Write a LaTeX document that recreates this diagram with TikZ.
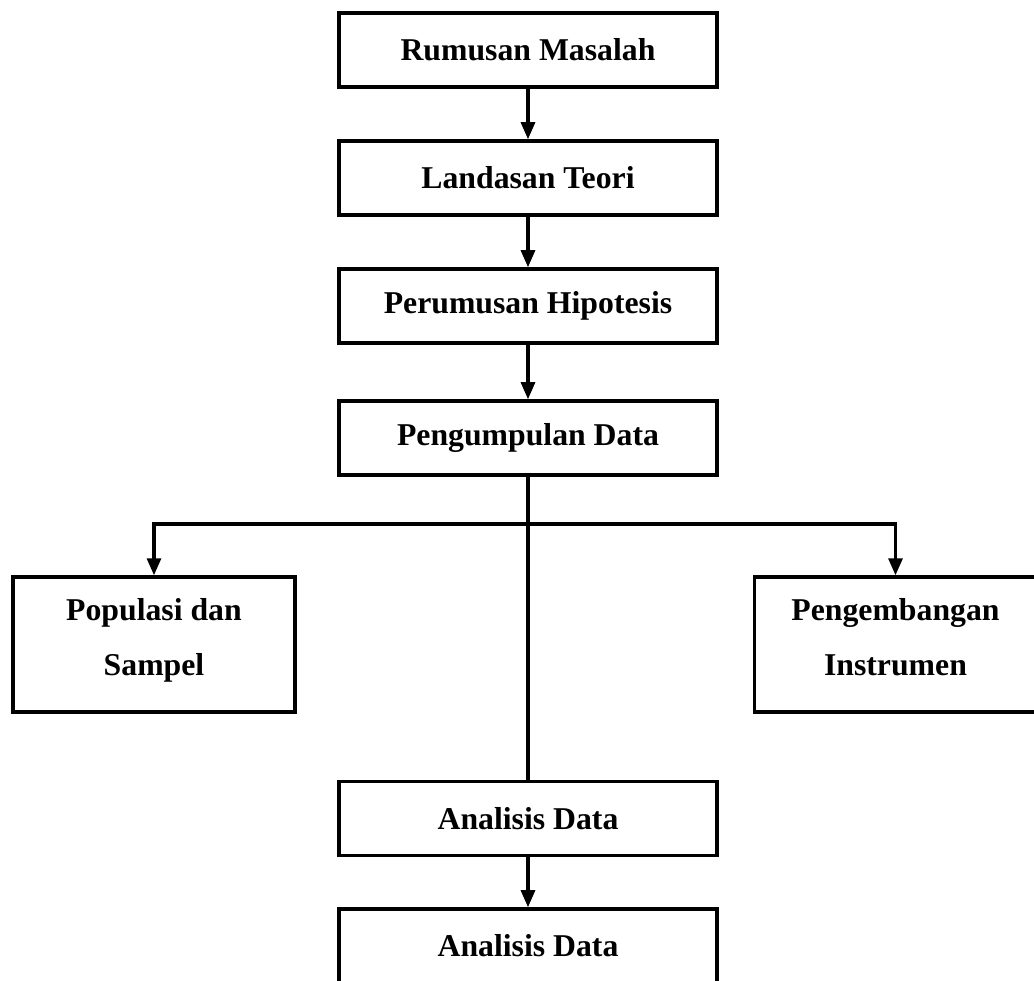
\documentclass[tikz,border=0pt]{standalone}
\usepackage{fontspec}
\setmainfont{Liberation Serif}
\usetikzlibrary{arrows.meta}

\begin{document}
\begin{tikzpicture}[x = 0.378pt, y = -0.378pt,
	box/.style = {rectangle, draw, line width = 1.2pt, font = \bfseries\fontsize{12}{20.8}\selectfont, align = center, minimum width = 142.9pt, minimum height = 28pt},
	sidebox/.style = {box, minimum width = 106.6pt, minimum height = 51pt, text depth = 5.5pt},
	link/.style = {line width = 1.4pt},
	arr/.style = {link, -{Triangle[length = 6.5pt, width = 5.2pt]}}]

\useasboundingbox (0, 0) rectangle (1034, 981);
\clip (0, 0) rectangle (1034, 981);

%%% main column

\node [box] (rumusan) at (528, 50) {Rumusan Masalah};

\node [box] (landasan) at (528, 178) {Landasan Teori};

\node [box] (hipotesis) at (528, 306) {Perumusan Hipotesis};

\node [box] (pengumpulan) at (528, 438) {Pengumpulan Data};

\node [box] (analisis) at (528, 818.5) {Analisis Data};

\node [box] (analisisdua) at (528, 946) {Analisis Data};


%%% side boxes

\node [sidebox] (populasi) at (154, 644.5) {Populasi dan\\Sampel};

\node [sidebox] (instrumen) at (895.5, 644.5) {Pengembangan\\Instrumen};


%%% arrows

\draw [arr] (rumusan) -- (landasan);

\draw [arr] (landasan) -- (hipotesis);

\draw [arr] (hipotesis) -- (pengumpulan);

\coordinate (cabang) at (528, 524);

\draw [link] (pengumpulan) -- (analisis);

\draw [arr] (cabang) -| (populasi.north);

\draw [arr] (cabang) -| (instrumen.north);

\draw [arr] (analisis) -- (analisisdua);

\end{tikzpicture}
\end{document}
